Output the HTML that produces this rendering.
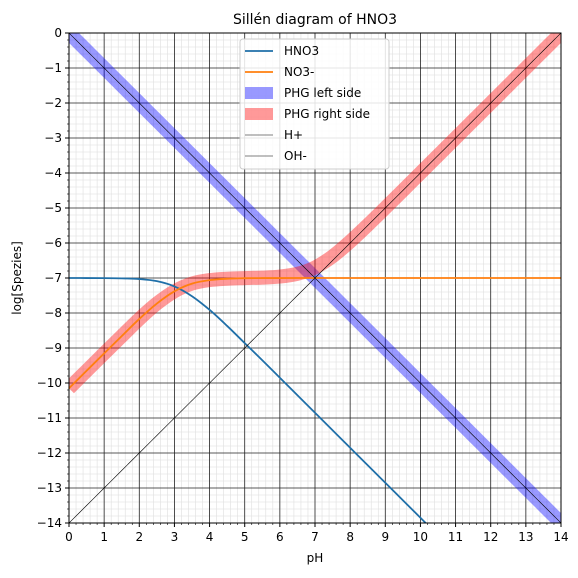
<!DOCTYPE html>
<html><head><meta charset="utf-8"><style>
html,body{margin:0;padding:0;background:#fff;overflow:hidden;width:578px;height:578px;font-family:"Liberation Sans","DejaVu Sans",sans-serif;}
svg{display:block;position:absolute;left:0;top:0;}
svg text{font-family:"DejaVu Sans","Liberation Sans",sans-serif;}
</style></head><body>
<svg id="chart" width="578" height="578" viewBox="0 0 578 578" xmlns="http://www.w3.org/2000/svg"></svg>
<script>
const phValues=[0,0.5,1,1.5,2,2.5,3,3.5,4,4.5,5,5.5,6,6.5,7,7.5,8,8.5,9,9.5,10,10.5,11,11.5,12,12.5,13,13.5,14];
const hno3Values=[-7.0,-7.001,-7.003,-7.011,-7.03,-7.09,-7.24,-7.52,-7.91,-8.37,-8.86,-9.35,-9.85,-10.35,-10.85,-11.35,-11.85,-12.35,-12.85,-13.35,-13.85,-14.35,-14.85,-15.35,-15.85,-16.35,-16.85,-17.35,-17.85];
const no3Values=[-10.15,-9.651,-9.153,-8.66,-8.17,-7.73,-7.38,-7.16,-7.06,-7.02,-7.006,-7.002,-7.001,-7.0,-7.0,-7.0,-7.0,-7.0,-7.0,-7.0,-7.0,-7.0,-7.0,-7.0,-7.0,-7.0,-7.0,-7.0,-7.0];
const phgRightValues=[-10.15,-9.651,-9.153,-8.66,-8.17,-7.73,-7.38,-7.16,-7.06,-7.02,-7.002,-6.988,-6.959,-6.881,-6.699,-6.381,-5.959,-5.487,-4.996,-4.5,-4.0,-3.5,-3.0,-2.5,-2.0,-1.5,-1.0,-0.5,0.0];
const hPlusValues=[0,-0.5,-1,-1.5,-2,-2.5,-3,-3.5,-4,-4.5,-5,-5.5,-6,-6.5,-7,-7.5,-8,-8.5,-9,-9.5,-10,-10.5,-11,-11.5,-12,-12.5,-13,-13.5,-14];
const ohValues=[-14,-13.5,-13,-12.5,-12,-11.5,-11,-10.5,-10,-9.5,-9,-8.5,-8,-7.5,-7,-6.5,-6,-5.5,-5,-4.5,-4,-3.5,-3,-2.5,-2,-1.5,-1,-0.5,0];
const xTicks=[0,1,2,3,4,5,6,7,8,9,10,11,12,13,14];
const yTicks=[0,-1,-2,-3,-4,-5,-6,-7,-8,-9,-10,-11,-12,-13,-14];

const NS="http://www.w3.org/2000/svg";
const svg=document.getElementById('chart');
const L=69,R=561,T=33,B=523;
const xS=v=>L+(v-0)/14*(R-L);
const yS=v=>T+(0-v)/14*(B-T);
function mk(tag,attrs,parent){const e=document.createElementNS(NS,tag);for(const k in attrs)e.setAttribute(k,attrs[k]);(parent||svg).appendChild(e);return e;}

const defs=mk('defs',{});
const cp=mk('clipPath',{id:'clip'},defs);
mk('rect',{x:L,y:T,width:R-L,height:B-T},cp);

const grid=mk('g',{});


for(let i=0;i<=70;i++){
  const v=i*0.2;
  if(i%5===0)continue;
  mk('line',{x1:xS(v),x2:xS(v),y1:T,y2:B,stroke:'#dedede','stroke-width':0.6},grid);
  mk('line',{x1:L,x2:R,y1:yS(-v),y2:yS(-v),stroke:'#dedede','stroke-width':0.6},grid);
}
xTicks.forEach(v=>mk('line',{x1:xS(v),x2:xS(v),y1:T,y2:B,stroke:'#222','stroke-width':0.8},grid));
yTicks.forEach(v=>mk('line',{x1:L,x2:R,y1:yS(v),y2:yS(v),stroke:'#222','stroke-width':0.8},grid));

const plot=mk('g',{'clip-path':'url(#clip)'});
function line(ys,attrs,name){
  const P=phValues.map((x,i)=>[xS(x),yS(ys[i])]);
  let d='M'+P[0][0].toFixed(2)+','+P[0][1].toFixed(2);
  for(let i=0;i<P.length-1;i++){
    const p0=P[Math.max(0,i-1)],p1=P[i],p2=P[i+1],p3=P[Math.min(P.length-1,i+2)];
    const c1=[p1[0]+(p2[0]-p0[0])/6,p1[1]+(p2[1]-p0[1])/6];
    const c2=[p2[0]-(p3[0]-p1[0])/6,p2[1]-(p3[1]-p1[1])/6];
    d+=' C'+c1[0].toFixed(2)+','+c1[1].toFixed(2)+' '+c2[0].toFixed(2)+','+c2[1].toFixed(2)+' '+p2[0].toFixed(2)+','+p2[1].toFixed(2);
  }
  const p=mk('path',Object.assign({d:d,fill:'none','stroke-linejoin':'round','stroke-linecap':'butt'},attrs),plot);
  
  
}
line(hPlusValues,{stroke:'#0000ff','stroke-opacity':0.4,'stroke-width':14},'phg-left-side');
line(phgRightValues,{stroke:'#ff0000','stroke-opacity':0.4,'stroke-width':14},'phg-right-side');
line(hno3Values,{stroke:'#1f6fa8','stroke-width':1.8},'hno3-line');
line(no3Values,{stroke:'#ff7f0e','stroke-width':1.8},'no3-line');
line(hPlusValues,{stroke:'#000','stroke-width':0.6},'h-plus-line');
line(ohValues,{stroke:'#000','stroke-width':0.6},'oh-minus-line');

const frame=mk('rect',{x:L,y:T,width:R-L,height:B-T,fill:'none',stroke:'#000','stroke-width':1});



const ax=mk('g',{'font-size':12,fill:'#000'});
xTicks.forEach(v=>{
  mk('line',{x1:xS(v),x2:xS(v),y1:B,y2:B+4,stroke:'#000'},ax);
  const t=mk('text',{x:xS(v),y:B+18,'text-anchor':'middle'},ax);t.textContent=v;
  
  
});
for(let i=0;i<=70;i++){if(i%5)mk('line',{x1:xS(i*0.2),x2:xS(i*0.2),y1:B,y2:B+2,stroke:'#000','stroke-width':0.6},ax);}
yTicks.forEach(v=>{
  mk('line',{x1:L-4,x2:L,y1:yS(v),y2:yS(v),stroke:'#000'},ax);
  const t=mk('text',{x:L-7,y:yS(v)+4,'text-anchor':'end'},ax);t.textContent=(v<0?'−'+(-v):v);
  
  
});
for(let i=0;i<=70;i++){if(i%5)mk('line',{x1:L-2,x2:L,y1:yS(-i*0.2),y2:yS(-i*0.2),stroke:'#000','stroke-width':0.6},ax);}

let t=mk('text',{x:(L+R)/2,y:562,'text-anchor':'middle','font-size':12});t.textContent='pH';

t=mk('text',{x:0,y:0,'text-anchor':'middle','font-size':12,transform:'translate(21,'+((T+B)/2)+') rotate(-90)'});t.textContent='log[Spezies]';

t=mk('text',{x:(L+R)/2,y:24,'text-anchor':'middle','font-size':14});t.textContent='Sillén diagram of HNO3';


const lg=mk('g',{'font-size':12});


mk('rect',{x:240,y:39,width:149,height:130,rx:3,fill:'#fff','fill-opacity':0.85,stroke:'#ccc'},lg);
const entries=[['HNO3','#1f6fa8',1.8,1],['NO3-','#ff7f0e',1.8,1],['PHG left side','#0000ff',12,0.4],['PHG right side','#ff0000',12,0.4],['H+','#000',0.6,1],['OH-','#000',0.6,1]];
entries.forEach((e,i)=>{
  const y=51+i*21;
  const g=mk('g',{},lg);
  
  
  mk('line',{x1:245,x2:273,y1:y,y2:y,stroke:e[1],'stroke-width':e[2],'stroke-opacity':e[3]},g);
  const tx=mk('text',{x:284,y:y+4},g);tx.textContent=e[0];
});
</script>
</body></html>
